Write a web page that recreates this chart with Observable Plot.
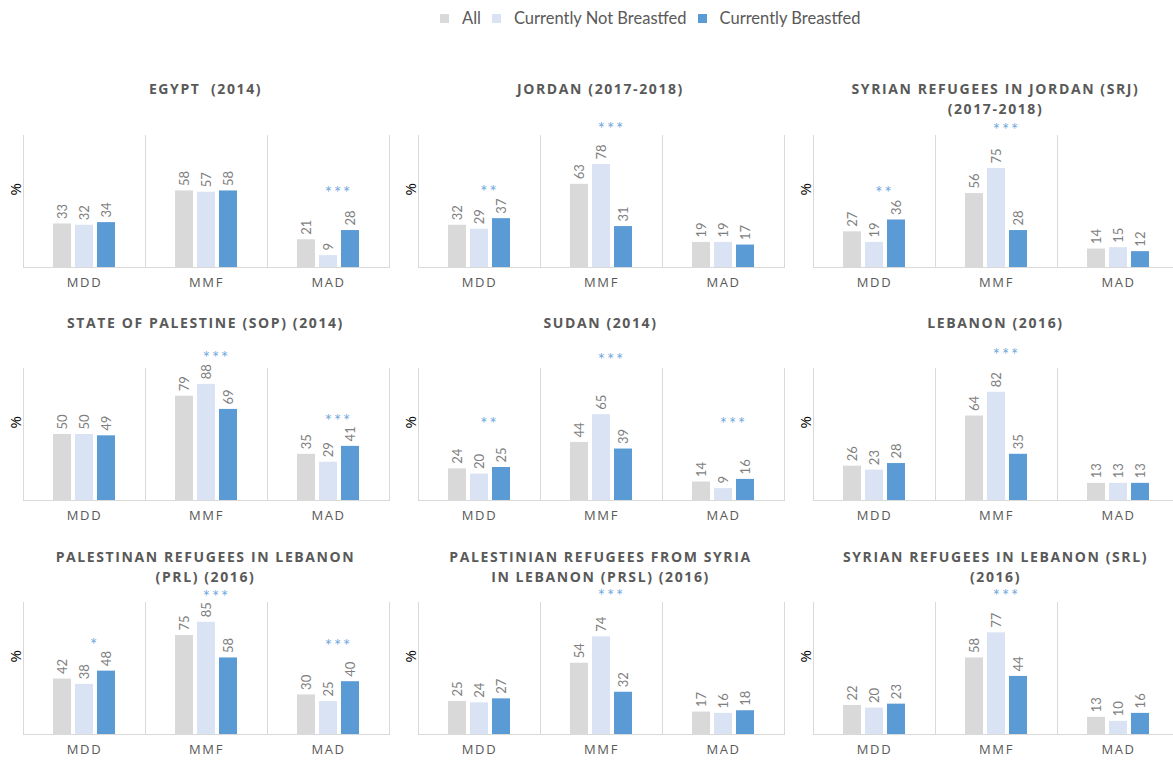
<!DOCTYPE html>
<html><head><meta charset="utf-8">
<script src="https://cdn.jsdelivr.net/npm/d3@7"></script>
<script src="https://cdn.jsdelivr.net/npm/@observablehq/plot@0.6"></script>
<style>
body{margin:0;background:#fff;overflow:hidden;}
#root{position:relative;width:1173px;height:760px;overflow:hidden;background:#fff;}
.panel{position:absolute;width:395px;}
.panel svg{max-width:none !important;}
.panel svg g[aria-label="fx-axis tick label"]{letter-spacing:1.6px;}
.panel svg g.stars text{letter-spacing:2px;}
.title{position:absolute;text-align:center;font-family:"Open Sans";font-weight:bold;font-size:14px;letter-spacing:1.6px;color:#595959;white-space:pre;line-height:20px;}
#legend{position:absolute;left:440px;top:8px;display:flex;align-items:center;font-family:Lato;font-size:16.5px;line-height:20px;color:#595959;white-space:nowrap;}
#legend .sw{display:inline-block;width:9px;height:9px;margin-right:13px;}
#legend .lb{margin-right:11px;}
</style></head>
<body><div id="root"><div id="legend"></div></div>
<script>
const indicators = ["MDD", "MMF", "MAD"];
const series = ["All", "Currently Not Breastfed", "Currently Breastfed"];
const colors = ["#d9d9d9", "#dae3f3", "#5b9bd5"];
const titles = [
  "EGYPT  (2014)",
  "JORDAN (2017-2018)",
  "SYRIAN REFUGEES IN JORDAN (SRJ)\n(2017-2018)",
  "STATE OF PALESTINE (SOP) (2014)",
  "SUDAN (2014)",
  "LEBANON (2016)",
  "PALESTINAN REFUGEES IN LEBANON\n(PRL) (2016)",
  "PALESTINIAN REFUGEES FROM SYRIA\nIN LEBANON (PRSL) (2016)",
  "SYRIAN REFUGEES IN LEBANON (SRL)\n(2016)"
];
// values per panel: [MDD, MMF, MAD]
const valAll   = [[33,58,21],[32,63,19],[27,56,14],[50,79,35],[24,44,14],[26,64,13],[42,75,30],[25,54,17],[22,58,13]];
const valNotBF = [[32,57,9],[29,78,19],[19,75,15],[50,88,29],[20,65,9],[23,82,13],[38,85,25],[24,74,16],[20,77,10]];
const valBF    = [[34,58,28],[37,31,17],[36,28,12],[49,69,41],[25,39,16],[28,35,13],[48,58,40],[27,32,18],[23,44,16]];
const stars = [["","","***"],["**","***",""],["**","***",""],["","***","***"],["**","***","***"],["","***",""],["*","***","***"],["","***",""],["","***",""]];
const starLevel = [[null,null,58],[59,107,null],[58,106,null],[null,110,62],[60,108,60],[null,112,null],[70,106,69],[null,107,null],[null,107,null]];

const root = document.getElementById("root");
const legend = document.getElementById("legend");
series.forEach((s, k) => {
  const sw = document.createElement("span"); sw.className = "sw"; sw.style.background = colors[k];
  const lb = document.createElement("span"); lb.className = "lb"; lb.textContent = s;
  legend.append(sw, lb);
});

const colLeft = [0, 395, 790];
const svgTop = [105, 338, 572];
const titleTop = [79, 313, 547];
const valueSets = [valAll, valNotBF, valBF];

titles.forEach((title, p) => {
  const c = p % 3, r = Math.floor(p / 3);
  const rows = indicators.flatMap((ind, j) => series.map((s, k) => ({ind, s, v: valueSets[k][p][j]})));
  const starRows = indicators.map((ind, j) => ({ind, star: stars[p][j], lvl: starLevel[p][j]})).filter(d => d.star);
  const chart = Plot.plot({
    width: 395, height: 192, marginTop: 30, marginBottom: 30, marginLeft: 22, marginRight: 6,
    style: {background: "transparent", overflow: "visible", fontFamily: "Open Sans", color: "#595959"},
    fx: {domain: indicators, padding: 0, axis: null},
    x: {domain: series, axis: null, paddingInner: 0.17, paddingOuter: 1.33},
    y: {domain: [0, 100], axis: null},
    color: {domain: series, range: colors},
    marks: [
      Plot.barY(rows, {fx: "ind", x: "s", y: "v", fill: "s"}),
      Plot.frame({anchor: "left", stroke: "#d9d9d9"}),
      Plot.frame({anchor: "right", stroke: "#d9d9d9", fx: ["MAD"]}),
      Plot.ruleY([0], {stroke: "#d9d9d9"}),
      Plot.axisFx({anchor: "bottom", label: null, tickSize: 0, tickPadding: 10, fontSize: 13, fill: "#595959", fontFamily: "Open Sans"}),
      Plot.text(rows, {fx: "ind", x: "s", y: "v", text: d => String(d.v), rotate: -90, textAnchor: "start", dy: -5, fill: "#7f7f7f", fontSize: 13, fontFamily: "Lato"}),
      Plot.text(starRows, {fx: "ind", y: "lvl", text: "star", frameAnchor: "middle", dx: 10, dy: 3, fill: "#6fa8dc", fontSize: 17, fontFamily: "Lato", className: "stars"}),
      Plot.text(["%"], {fx: ["MDD"], frameAnchor: "left", rotate: -90, dx: -7, dy: -6, fontSize: 15, fill: "#000", fontFamily: "Open Sans"})
    ]
  });
  const wrap = document.createElement("div");
  wrap.className = "panel";
  wrap.style.left = colLeft[c] + "px";
  wrap.style.top = svgTop[r] + "px";
  wrap.appendChild(chart);
  root.appendChild(wrap);
  const t = document.createElement("div");
  t.className = "title";
  t.style.left = (colLeft[c] + 22) + "px";
  t.style.width = "367px";
  t.style.top = titleTop[r] + "px";
  t.textContent = title;
  root.appendChild(t);
});
</script></body></html>
